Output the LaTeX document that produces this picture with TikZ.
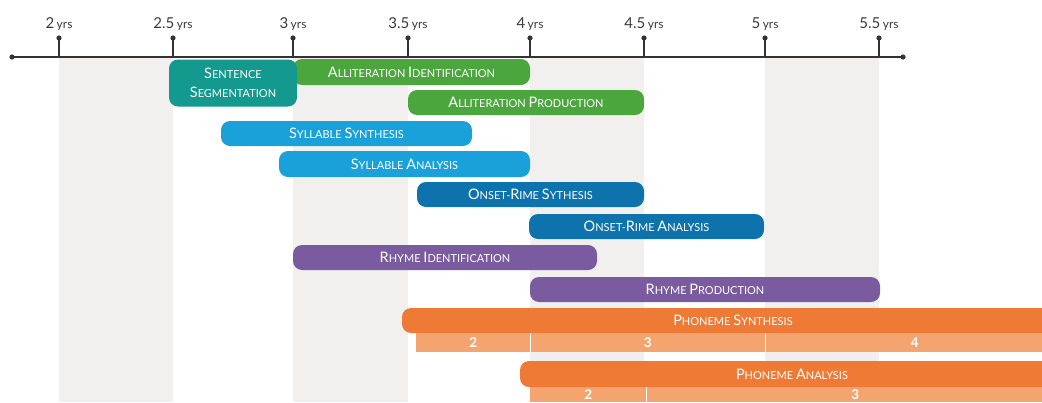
\documentclass[tikz,border=0pt]{standalone}
\usepackage{fontspec}
\setmainfont{Lato}
\definecolor{stripe}{HTML}{F2F0EE}
\definecolor{axisc}{HTML}{333333}
\definecolor{labc}{HTML}{3A3A3A}
\definecolor{tealc}{HTML}{14998E}
\definecolor{greenc}{HTML}{4CA63E}
\definecolor{lblue}{HTML}{1AA1DA}
\definecolor{dblue}{HTML}{0E72AC}
\definecolor{purplec}{HTML}{7A5BA0}
\definecolor{orangec}{HTML}{EE7A36}
\definecolor{lorange}{HTML}{F4A46E}
\newcommand\barfont{\fontsize{11}{12}\selectfont}
\newcommand\bigc[1]{{\fontsize{14.5}{14}\selectfont #1}}
\newcommand\yrs[1]{#1\,{\fontsize{12}{12}\selectfont yrs}}
\tikzset{
  bar/.style={rounded corners=9pt, text=white, inner sep=0pt, font=\barfont, anchor=center},
  band/.style={fill=lorange, inner sep=0pt, text=white, font=\fontsize{13.5}{13}\selectfont\bfseries, anchor=north west},
  yearlab/.style={text=labc, font=\fontsize{15}{15}\selectfont, anchor=base, inner sep=0pt},
  axisline/.style={axisc, line width=1.3pt},
  dotc/.style={fill=axisc, draw=none},
  divider/.style={white, line width=1.2pt}
}
\begin{document}
\begin{tikzpicture}[x=1pt,y=-1pt]
\useasboundingbox (0,0) rectangle (1042,402);
\clip (0,0) rectangle (1042,402);
% stripes
\foreach \a/\b in {59/173, 293/408, 530/644, 765/879}{
  \fill[stripe] (\a,57) rectangle (\b,402);
}
% bars
\node[bar, fill=greenc, minimum width=237pt, minimum height=26pt] (allid) at (411.5,72) {\bigc{A}LLITERATION \bigc{I}DENTIFICATION};
\node[bar, fill=tealc, minimum width=128pt, minimum height=47pt, align=center] (sent) at (233,83) {\bigc{S}ENTENCE\\[7pt]\bigc{S}EGMENTATION};
\node[bar, fill=greenc, minimum width=236pt, minimum height=25pt] (allprod) at (526,102.5) {\bigc{A}LLITERATION \bigc{P}RODUCTION};
\node[bar, fill=lblue, minimum width=251pt, minimum height=25pt] (sylsyn) at (346.5,133.5) {\bigc{S}YLLABLE \bigc{S}YNTHESIS};
\node[bar, fill=lblue, minimum width=251pt, minimum height=26pt] (sylana) at (404.5,164) {\bigc{S}YLLABLE \bigc{A}NALYSIS};
\node[bar, fill=dblue, minimum width=227pt, minimum height=25pt] (onsyn) at (530.5,194.5) {\bigc{O}NSET-\bigc{R}IME \bigc{S}YTHESIS};
\node[bar, fill=dblue, minimum width=235pt, minimum height=25pt] (onana) at (646.5,226.5) {\bigc{O}NSET-\bigc{R}IME \bigc{A}NALYSIS};
\node[bar, fill=purplec, minimum width=304pt, minimum height=25pt] (rhyid) at (445,257.5) {\bigc{R}HYME \bigc{I}DENTIFICATION};
\node[bar, fill=purplec, minimum width=350pt, minimum height=25pt] (rhyprod) at (705,289.5) {\bigc{R}HYME \bigc{P}RODUCTION};
% phoneme synthesis
\node[band, minimum width=114pt, minimum height=19pt] (syn2) at (416,333) {2};
\node[band, minimum width=235pt, minimum height=19pt] (syn3) at (530,333) {3};
\node[band, minimum width=299pt, minimum height=19pt] (syn4) at (765,333) {4};
\draw[divider] (syn2.north east) -- (syn2.south east);
\draw[divider] (syn3.north east) -- (syn3.south east);
\node[bar, fill=orangec, minimum width=662pt, minimum height=25pt] (phsyn) at (733,320.5) {\bigc{P}HONEME \bigc{S}YNTHESIS};
% phoneme analysis
\node[band, minimum width=116pt, minimum height=15pt] (ana2) at (530,387) {2};
\node[band, minimum width=418pt, minimum height=15pt] (ana3) at (646,387) {3};
\draw[divider] (ana2.north east) -- (ana2.south east);
\node[bar, fill=orangec, minimum width=544pt, minimum height=26pt] (phana) at (792,374) {\bigc{P}HONEME \bigc{A}NALYSIS};
% axis
\coordinate (axL) at (12,57);
\coordinate (axR) at (903,57);
\draw[axisline] (axL) -- (axR);
\fill[dotc] (axL) circle (2.6pt);
\fill[dotc] (axR) circle (2.6pt);
\foreach \x/\lab/\n in {59/2/a, 173/2.5/b, 293/3/c, 408/3.5/d, 530/4/e, 644/4.5/f, 765/5/g, 879/5.5/h}{
  \coordinate (tb\n) at (\x,57);
  \coordinate (tt\n) at (\x,38);
  \draw[axisline] (tb\n) -- (tt\n);
  \fill[dotc] (tt\n) circle (2.6pt);
  \node[yearlab] (yl\n) at (\x,28) {\yrs{\lab}};
}
\end{tikzpicture}
\end{document}
